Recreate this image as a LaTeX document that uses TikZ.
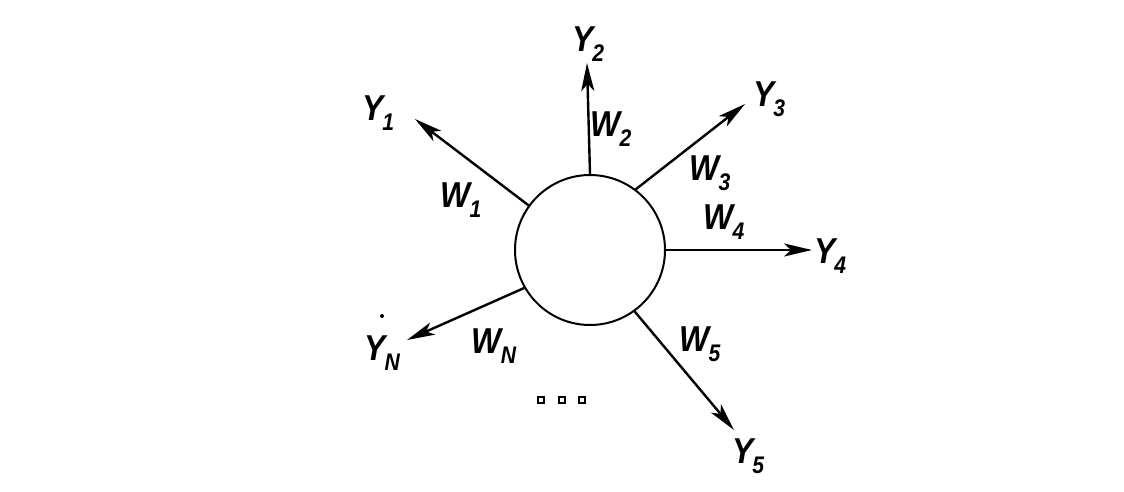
\documentclass[tikz,border=0pt]{standalone}
\usepackage{graphicx}
\usepackage{fontspec}
\setmainfont{Liberation Sans}
\usetikzlibrary{arrows.meta}
\newcommand\symb[2]{\scalebox{0.88}[1]{\bfseries\itshape #1\kern-1pt\raisebox{-0.28em}{\fontsize{24}{28}\selectfont #2}}}
\begin{document}
\begin{tikzpicture}[x=1pt,y=-1pt,
  flow/.style={line width=2.4pt,-{Stealth[length=28pt,width=13pt,inset=7pt]}},
  lbl/.style={inner sep=0pt,font=\fontsize{36}{40}\selectfont},
  dotbox/.style={draw,line width=1.6pt,minimum size=6.5pt,inner sep=0pt}]
\useasboundingbox (0,0) rectangle (1124,492);
\node[draw,circle,line width=2pt,minimum size=150pt,inner sep=0pt] (c) at (590,250) {};
\coordinate (t1) at (415,119);
\coordinate (t2) at (587,63);
\coordinate (t3) at (745,104);
\coordinate (t4) at (812,250);
\coordinate (t5) at (734,430);
\coordinate (tN) at (407,340);
\draw[flow] (c.144) -- (t1);
\draw[flow] (c.90) -- (t2);
\draw[flow] (c.53) -- (t3);
\draw[flow] (c.0) -- (t4);
\draw[flow] (c.-54) -- (t5);
\draw[flow] (c.210) -- (tN);
\node[lbl] (y1) at (378,113) {\symb{Y}{1}};
\node[lbl] (y2) at (588,44) {\symb{Y}{2}};
\node[lbl] (y3) at (769,99) {\symb{Y}{3}};
\node[lbl] (y4) at (830,256) {\symb{Y}{4}};
\node[lbl] (y5) at (748,456) {\symb{Y}{5}};
\node[lbl] (yN) at (382,353) {\symb{Y}{N}};
\node[lbl] (w1) at (461,200) {\symb{W}{1}};
\node[lbl] (w2) at (611,129) {\symb{W}{2}};
\node[lbl] (w3) at (710,173) {\symb{W}{3}};
\node[lbl] (w4) at (724,222) {\symb{W}{4}};
\node[lbl] (w5) at (700,344) {\symb{W}{5}};
\node[lbl] (wN) at (494,346) {\symb{W}{N}};
\fill (382,316) circle (2pt);
\node[dotbox] (d1) at (541,400) {};
\node[dotbox] (d2) at (562,400) {};
\node[dotbox] (d3) at (582,400) {};
\end{tikzpicture}
\end{document}
